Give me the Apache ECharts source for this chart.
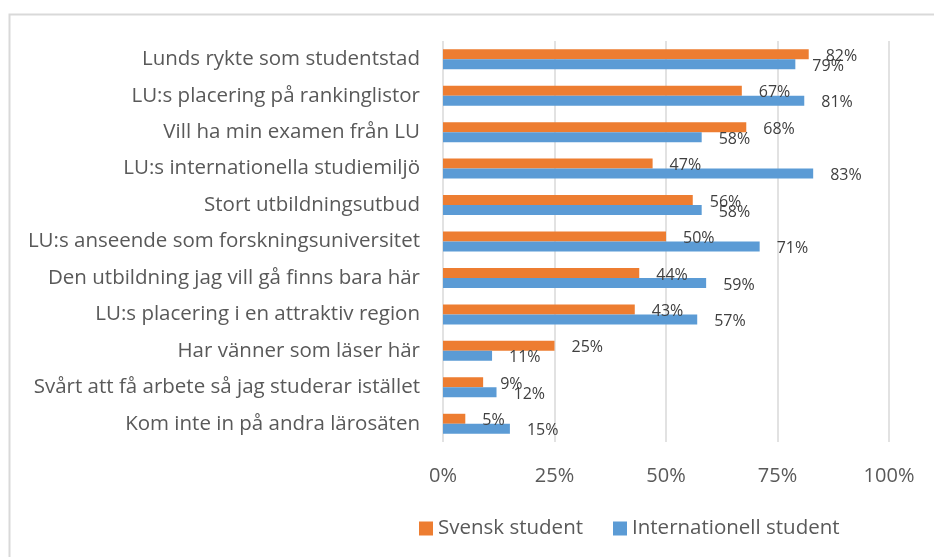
<!DOCTYPE html>
<html>
<head>
<meta charset="utf-8">
<script src="https://cdn.jsdelivr.net/npm/echarts@6/dist/echarts.min.js"></script>
<style>
  html, body { margin: 0; padding: 0; background: #fff; }
  #main { width: 934px; height: 557px; }
</style>
</head>
<body>
<div id="main"></div>
<script>
var categories = [
    'Lunds rykte som studentstad',
    'LU:s placering på rankinglistor',
    'Vill ha min examen från LU',
    'LU:s internationella studiemiljö',
    'Stort utbildningsutbud',
    'LU:s anseende som forskningsuniversitet',
    'Den utbildning jag vill gå finns bara här',
    'LU:s placering i en attraktiv region',
    'Har vänner som läser här',
    'Svårt att få arbete så jag studerar istället',
    'Kom inte in på andra lärosäten'
];
var svensk = [82, 67, 68, 47, 56, 50, 44, 43, 25, 9, 5];
var internationell = [79, 81, 58, 83, 58, 71, 59, 57, 11, 12, 15];
var seriesNames = ['Svensk student', 'Internationell student'];

var font = 'Open Sans';
var myChart = echarts.init(document.getElementById('main'));

var labelStyle = {
    show: true,
    position: 'right',
    distance: 17,
    offset: [0, 2],
    fontFamily: font,
    fontSize: 16,
    color: '#404040',
    formatter: '{c}%'
};

var option = {
    animation: false,
    backgroundColor: '#fff',
    textStyle: { fontFamily: font },
    graphic: [{
        type: 'rect',
        left: 7,
        top: 12,
        shape: { width: 960, height: 580 },
        style: { fill: 'none', stroke: '#d9d9d9', lineWidth: 2 },
        silent: true
    }],
    grid: {
        left: 443,
        right: 45,
        top: 41,
        bottom: 115
    },
    legend: {
        data: seriesNames,
        left: 414,
        top: 513,
        icon: 'rect',
        itemWidth: 14,
        itemHeight: 14,
        itemGap: 30,
        textStyle: { fontFamily: font, fontSize: 20.5, color: '#595959' }
    },
    xAxis: {
        type: 'value',
        min: 0,
        max: 100,
        interval: 25,
        axisLine: { show: false },
        axisTick: { show: false },
        splitLine: { lineStyle: { color: '#d9d9d9', width: 1.5 } },
        axisLabel: {
            formatter: '{value}%',
            fontFamily: font,
            fontSize: 20,
            color: '#595959',
            margin: 24
        }
    },
    yAxis: {
        type: 'category',
        data: categories,
        inverse: true,
        axisLine: { show: false },
        axisTick: { show: false },
        axisLabel: {
            fontFamily: font,
            fontSize: 20.5,
            color: '#595959',
            margin: 23
        }
    },
    series: [{
        name: seriesNames[0],
        type: 'bar',
        data: svensk,
        barWidth: 10,
        barGap: '0%',
        itemStyle: { color: '#ED7D31' },
        label: labelStyle
    }, {
        name: seriesNames[1],
        type: 'bar',
        data: internationell,
        barWidth: 10,
        barGap: '0%',
        itemStyle: { color: '#5B9BD5' },
        label: labelStyle
    }]
};

myChart.setOption(option);
</script>
</body>
</html>
